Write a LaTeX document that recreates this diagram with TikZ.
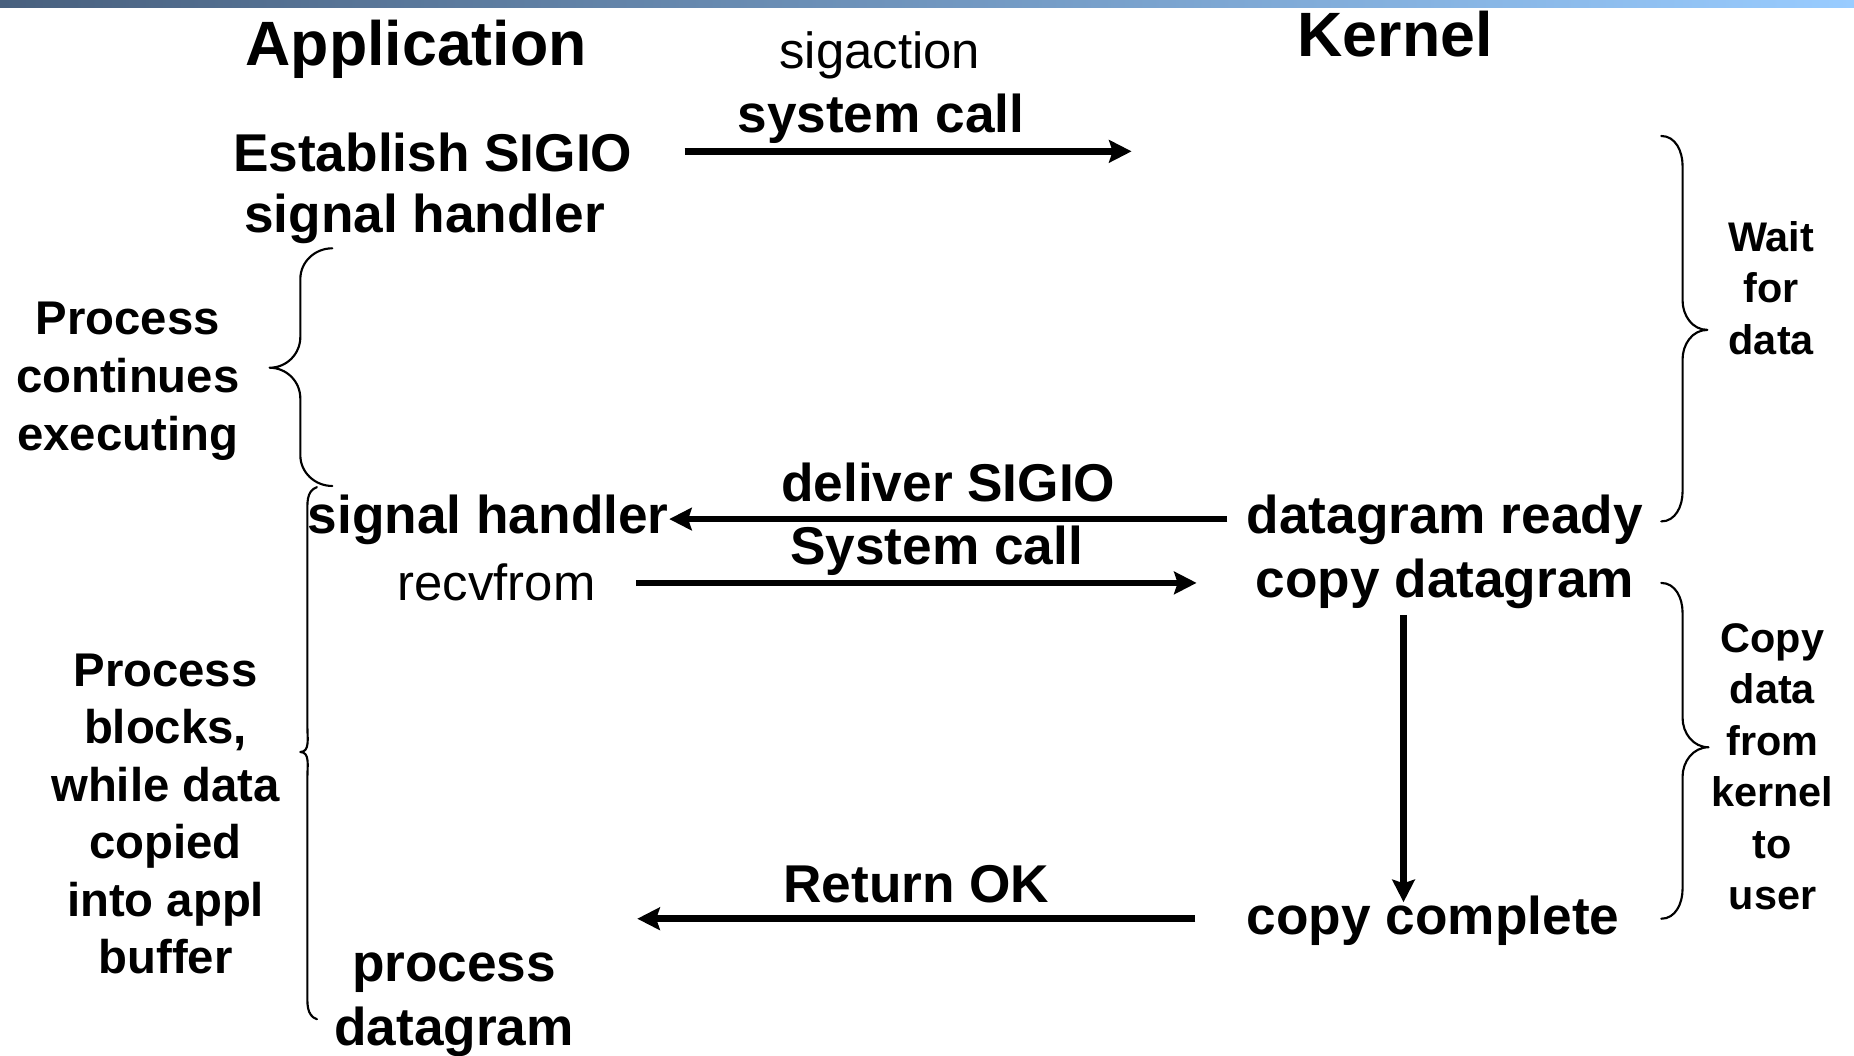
\documentclass[tikz,border=0pt]{standalone}
\usepackage{fontspec}
\setmainfont{Liberation Sans}
\usetikzlibrary{arrows.meta}
\definecolor{barleft}{RGB}{72,96,126}
\definecolor{barright}{RGB}{153,204,255}
\begin{document}
\begin{tikzpicture}[x=1pt,y=-1pt,
  head/.style={font=\bfseries\fontsize{53}{64}\selectfont, inner sep=0pt, anchor=base},
  lbl/.style={font=\bfseries\fontsize{45}{54}\selectfont, inner sep=0pt, anchor=base},
  plain/.style={font=\fontsize{43}{52}\selectfont, inner sep=0pt, anchor=base},
  side/.style={font=\bfseries\fontsize{40}{49}\selectfont, inner sep=0pt, align=center, anchor=north},
  note/.style={font=\bfseries\fontsize{35}{43.5}\selectfont, inner sep=0pt, align=center, anchor=north},
  flow/.style={line width=5.5pt, -{Stealth[length=19pt,width=19pt,inset=3pt]}},
  brace/.style={line width=1.8pt, line cap=round, line join=round},
]
\useasboundingbox (0,0) rectangle (1568,893);
\fill[white] (0,0) rectangle (1568,893);
% title bar
\shade[left color=barleft, right color=barright] (0,0) rectangle (1568,6);

% column headings
\node[head] (app) at (352,55) {Application};
\node[head] (kern) at (1180,48) {Kernel};

% application side
\node[lbl] (estab) at (366,145) {Establish SIGIO};
\node[lbl] (sighandA) at (359,197) {signal handler};
\node[lbl] (sighandB) at (413,451) {signal handler};
\node[plain] (recv) at (420,508) {recvfrom};
\node[lbl] (proc) at (384,830) {process};
\node[lbl] (dgram) at (384,884) {datagram};

% messages between the two sides
\node[plain] (sigact) at (744,58) {sigaction};
\node[lbl] (syscallA) at (745,112) {system call};
\node[lbl] (deliver) at (802,424) {deliver SIGIO};
\node[lbl] (syscallB) at (792,477) {System call};
\node[lbl] (retok) at (775,763) {Return OK};

% kernel side
\node[lbl] (ready) at (1222,451) {datagram ready};
\node[lbl] (copyd) at (1222,505) {copy datagram};
\node[lbl] (done) at (1212,790) {copy complete};

% phase notes
\node[side] (cont) at (108,255) {Process\\continues\\executing};
\node[side, font=\bfseries\fontsize{40}{48.5}\selectfont] (blocks) at (140,553)
  {Process\\blocks,\\while data\\copied\\into appl\\buffer};
\node[note] (wait) at (1498,187) {Wait\\for\\data};
\node[note] (copy) at (1499,527) {Copy\\data\\from\\kernel\\to\\user};

% arrow end points
\coordinate (estabR) at (579,128);
\coordinate (kernIn) at (957,128);
\coordinate (readyL) at (1038,439);
\coordinate (handR) at (566,439);
\coordinate (recvR) at (538,493);
\coordinate (kernRecv) at (1012,493);
\coordinate (copyTop) at (1187,520);
\coordinate (copyEnd) at (1187,763);
\coordinate (doneL) at (1011,777);
\coordinate (appRet) at (539,777);

\draw[flow] (estabR) -- (kernIn);
\draw[flow] (readyL) -- (handR);
\draw[flow] (recvR) -- (kernRecv);
\draw[flow] (copyTop) -- (copyEnd);
\draw[flow] (doneL) -- (appRet);

% braces on the application side
\draw[brace] (281,210) to[out=180,in=90] (254,236) -- (254,285)
  to[out=-90,in=0] (228,311) to[out=0,in=90] (254,337) -- (254,385)
  to[out=-90,in=180] (281,411);
\draw[brace] (268,412) to[out=200,in=90] (260,436) -- (260,616)
  to[out=-90,in=0] (254,636) to[out=0,in=90] (260,656) -- (260,838)
  to[out=-90,in=160] (268,862);

% braces on the kernel side
\draw[brace] (1405,115) to[out=0,in=90] (1423,140) -- (1423,254)
  to[out=-90,in=180] (1444,279) to[out=180,in=90] (1423,304) -- (1423,416)
  to[out=-90,in=0] (1405,441);
\draw[brace] (1405,493) to[out=0,in=90] (1423,518) -- (1423,607)
  to[out=-90,in=180] (1445,632) to[out=180,in=90] (1423,657) -- (1423,752)
  to[out=-90,in=0] (1405,777);
\end{tikzpicture}
\end{document}
